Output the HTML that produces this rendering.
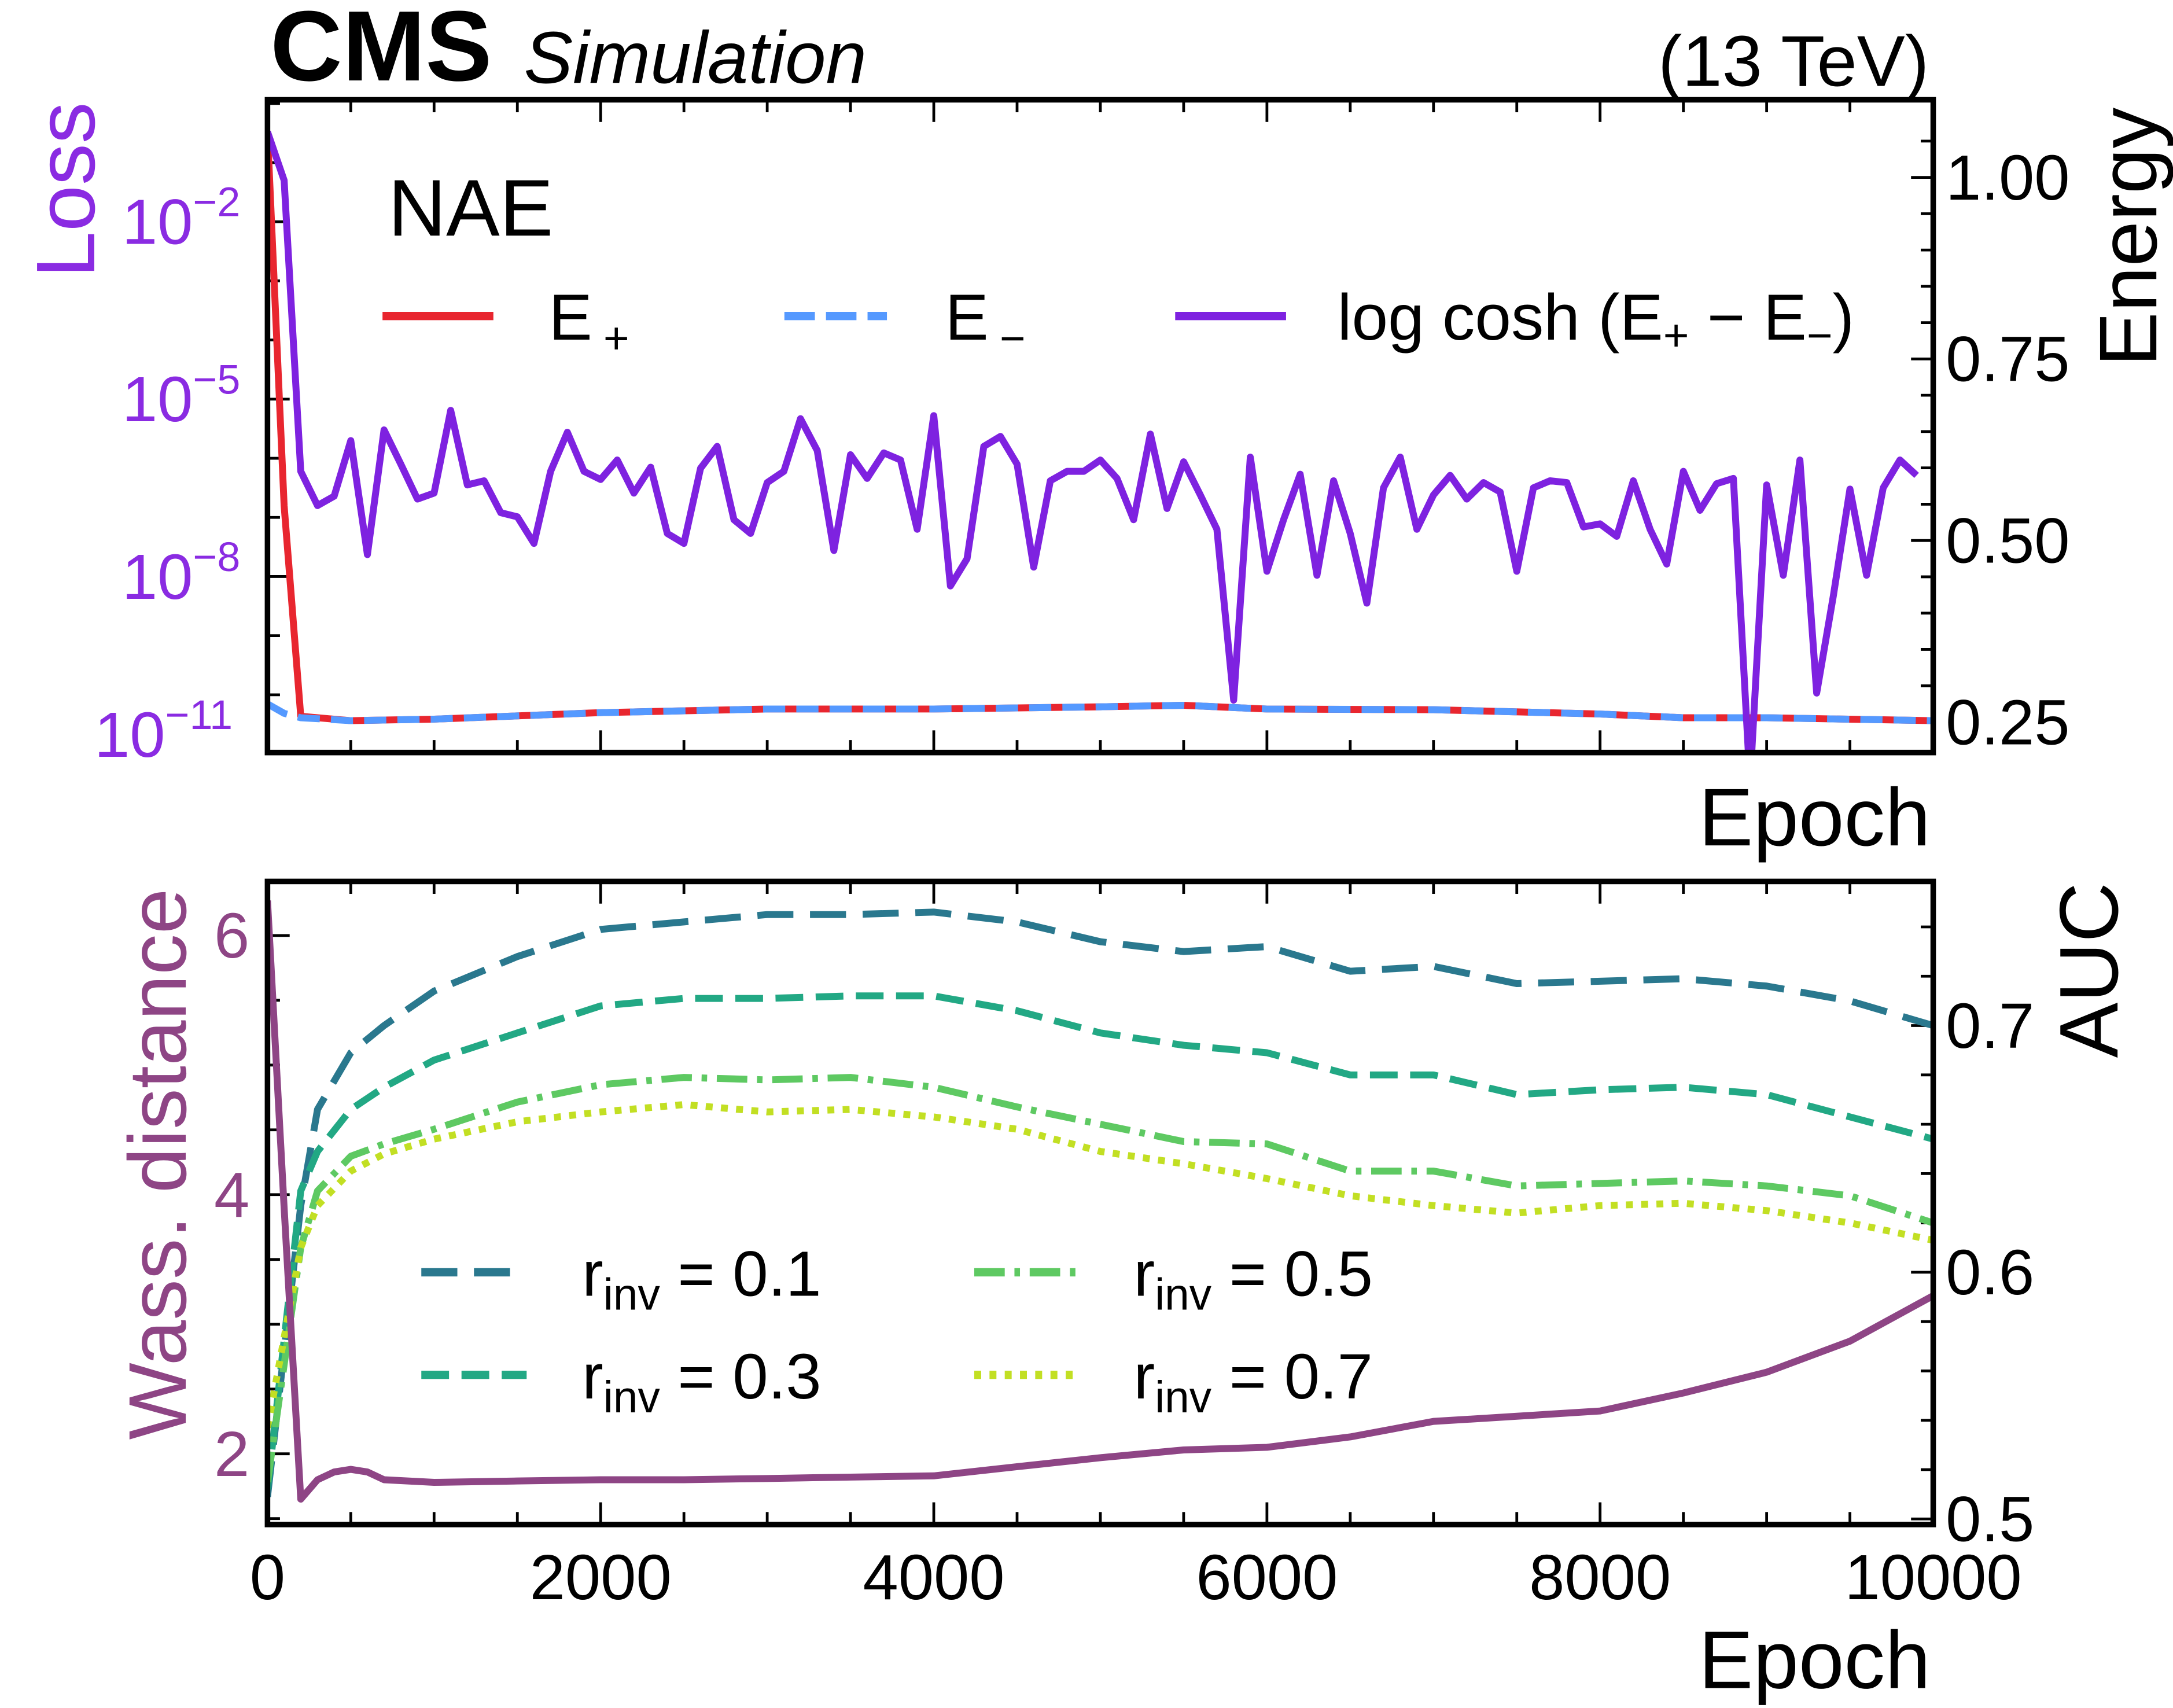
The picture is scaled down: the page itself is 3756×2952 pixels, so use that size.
<!DOCTYPE html>
<html><head><meta charset="utf-8">
<style>
html,body{margin:0;padding:0;background:#fff;}
svg{display:block;font-family:"Liberation Sans","DejaVu Sans",sans-serif;}
</style></head>
<body>
<svg id="chart" width="3756" height="2952" viewBox="0 0 1568 1232.4" xmlns="http://www.w3.org/2000/svg">
<rect width="1568" height="1232.4" fill="#fff"/>
<g id="gtop"></g>
<g id="gbot"></g>
<text x="195" y="58" font-size="72" font-weight="bold">CMS</text>
<text x="378" y="60" font-size="53" font-style="italic">Simulation</text>
<text x="1392" y="62" font-size="52" text-anchor="end">(13 TeV)</text>
<text transform="translate(68,137) rotate(-90)" font-size="60" fill="#8a2be2" text-anchor="middle">Loss</text>
<text transform="translate(1556,171) rotate(-90)" font-size="59" text-anchor="middle">Energy</text>
<text x="1393" y="610" font-size="59" text-anchor="end">Epoch</text>
<text transform="translate(134,840) rotate(-90)" font-size="59" fill="#8e4585" text-anchor="middle">Wass. distance</text>
<text transform="translate(1528,700) rotate(-90)" font-size="60" text-anchor="middle">AUC</text>
<text x="1393" y="1218" font-size="59" text-anchor="end">Epoch</text>
<g>
<text x="280" y="170" font-size="58">NAE</text>
<line x1="276" y1="228" x2="356" y2="228" stroke="#e8262f" stroke-width="6"/>
<text x="396" y="245" font-size="47">E<tspan font-size="32" dx="8" dy="10">+</tspan></text>
<line x1="566" y1="228" x2="640" y2="228" stroke="#5599ff" stroke-width="6" stroke-dasharray="22,8"/>
<text x="682" y="245" font-size="47">E<tspan font-size="32" dx="8" dy="10">−</tspan></text>
<line x1="848" y1="228" x2="928" y2="228" stroke="#7e22e0" stroke-width="6"/>
<text x="965" y="245" font-size="47">log cosh (E<tspan font-size="32" dy="8">+</tspan><tspan dy="-8"> − E</tspan><tspan font-size="32" dy="8">−</tspan><tspan dy="-8">)</tspan></text>
</g>
<g>
<line x1="304" y1="918" x2="380" y2="918" stroke="#2a788e" stroke-width="6" stroke-dasharray="26,12"/>
<text x="420" y="935" font-size="46">r<tspan font-size="32" dy="10">inv</tspan><tspan dy="-10"> = 0.1</tspan></text>
<line x1="304" y1="992" x2="380" y2="992" stroke="#22a884" stroke-width="6" stroke-dasharray="20,9"/>
<text x="420" y="1009" font-size="46">r<tspan font-size="32" dy="10">inv</tspan><tspan dy="-10"> = 0.3</tspan></text>
<line x1="703" y1="918" x2="778" y2="918" stroke="#5ec962" stroke-width="6" stroke-dasharray="22,7,4,7"/>
<text x="818" y="935" font-size="46">r<tspan font-size="32" dy="10">inv</tspan><tspan dy="-10"> = 0.5</tspan></text>
<line x1="703" y1="992" x2="778" y2="992" stroke="#c2df23" stroke-width="6" stroke-dasharray="5,6"/>
<text x="818" y="1009" font-size="46">r<tspan font-size="32" dy="10">inv</tspan><tspan dy="-10"> = 0.7</tspan></text>
</g>
</svg>
<script>
// ---- data ----
const lossExp = [-0.48,-1.30,-6.22,-6.80,-6.64,-5.70,-7.63,-5.52,-6.10,-6.69,-6.59,-5.19,-6.45,-6.38,-6.92,-6.99,-7.44,-6.22,-5.56,-6.22,-6.36,-6.03,-6.59,-6.15,-7.27,-7.44,-6.17,-5.80,-7.04,-7.27,-6.41,-6.22,-5.33,-5.87,-7.56,-5.94,-6.34,-5.91,-6.03,-7.20,-5.28,-8.16,-7.70,-5.80,-5.63,-6.10,-7.84,-6.38,-6.22,-6.22,-6.03,-6.34,-7.04,-5.59,-6.85,-6.06,-6.62,-7.20,-10.09,-5.98,-7.91,-7.04,-6.27,-7.98,-6.38,-7.27,-8.45,-6.50,-5.98,-7.20,-6.62,-6.29,-6.69,-6.41,-6.57,-7.91,-6.50,-6.38,-6.41,-7.16,-7.11,-7.32,-6.38,-7.20,-7.79,-6.22,-6.88,-6.43,-6.34,-11.5,-6.45,-7.98,-6.03,-9.97,-8.33,-6.52,-7.98,-6.50,-6.03,-6.29];
const energyEpochs = [0,100,200,500,1000,2000,3000,4000,5000,5500,6000,7000,8000,8500,9000,10000];
const ePlus  = [1.063,0.548,0.258,0.252,0.254,0.263,0.268,0.268,0.271,0.273,0.268,0.267,0.261,0.256,0.256,0.252];
const eMinus = [0.275,0.262,0.256,0.252,0.254,0.263,0.268,0.268,0.271,0.273,0.268,0.267,0.261,0.256,0.256,0.252];
const wassEpochs = [0,100,200,300,400,500,600,700,1000,1500,2000,2500,3000,3500,4000,4500,5000,5500,6000,6500,7000,7500,8000,8500,9000,9500,10000];
const wass = [6.27,3.9,1.65,1.8,1.86,1.88,1.86,1.8,1.78,1.79,1.8,1.8,1.81,1.82,1.83,1.9,1.97,2.03,2.05,2.13,2.25,2.29,2.33,2.47,2.63,2.87,3.22];
const aucEpochs = [0,200,300,500,700,1000,1500,2000,2500,3000,3500,4000,4500,5000,5500,6000,6500,7000,7500,8000,8500,9000,9500,10000];
const auc01 = [0.509,0.627,0.666,0.689,0.700,0.714,0.728,0.739,0.742,0.745,0.745,0.746,0.742,0.734,0.730,0.732,0.722,0.724,0.717,0.718,0.719,0.716,0.710,0.700];
const auc03 = [0.512,0.633,0.649,0.666,0.675,0.686,0.697,0.708,0.711,0.711,0.712,0.712,0.706,0.697,0.692,0.689,0.680,0.680,0.672,0.674,0.675,0.672,0.663,0.654];
const auc05 = [0.515,0.610,0.633,0.647,0.652,0.658,0.669,0.676,0.679,0.678,0.679,0.675,0.667,0.660,0.653,0.652,0.641,0.641,0.635,0.636,0.637,0.635,0.631,0.620];
const auc07 = [0.537,0.610,0.627,0.641,0.648,0.654,0.661,0.665,0.668,0.665,0.666,0.663,0.658,0.649,0.644,0.638,0.631,0.627,0.624,0.627,0.628,0.625,0.620,0.613];
const xTickLabels = ["0","2000","4000","6000","8000","10000"];
const lossTickExp = [-2,-5,-8,-11];
const energyTicks = ["0.25","0.50","0.75","1.00"];
const wassTicks = ["2","4","6"];
const aucTicks = ["0.5","0.6","0.7"];

const NS="http://www.w3.org/2000/svg";
const X0=193,X1=1395;
const xs=e=>X0+(e/10000)*(X1-X0);
const yLoss=v=>160+(-2-v)*128/3;
const yE=v=>128+(1.0-v)*131/0.25;
const yW=v=>675+(6-v)*93.5;
const yA=v=>740+(0.7-v)*1780;
function mk(parent,tag,attrs){const el=document.createElementNS(NS,tag);for(const k in attrs)el.setAttribute(k,attrs[k]);parent.appendChild(el);return el;}
function poly(parent,xv,yv,fx,fy,style,name,clip){
  const pts=xv.map((x,i)=>fx(x).toFixed(1)+","+fy(yv[i]).toFixed(1)).join(" ");
  const el=mk(parent,"polyline",Object.assign({points:pts,fill:"none","stroke-linejoin":"round"},style));
  if(clip) el.setAttribute("clip-path",clip);
  
  
}
const svgEl=document.getElementById("chart");
const defs=mk(svgEl,"defs",{});
const c1=mk(defs,"clipPath",{id:"c1"});mk(c1,"rect",{x:X0,y:72,width:X1-X0,height:471});
const c2=mk(defs,"clipPath",{id:"c2"});mk(c2,"rect",{x:X0,y:636,width:X1-X0,height:464});
const gTop=document.getElementById("gtop"),gBot=document.getElementById("gbot");

function tick(g,x1,y1,x2,y2,name){const t=mk(g,"line",{x1,y1,x2,y2,stroke:"#000","stroke-width":2});
  
  }
function label(g,x,y,txt,anchor,fill,name,size){const t=mk(g,"text",{x,y,"font-size":size||46,"text-anchor":anchor,fill:fill||"#000"});t.textContent=txt;
  
  return t;}

// ---- ticks ----
for(let e=0;e<=10000;e+=500){const x=xs(e);const L=e%2000===0?16:9;
  tick(gTop,x,543,x,543-L,"top-x-tick");tick(gTop,x,72,x,72+L,"top-x-tick");
  tick(gBot,x,1100,x,1100-L,"bottom-x-tick");tick(gBot,x,636,x,636+L,"bottom-x-tick");}
xTickLabels.forEach((t,i)=>label(gBot,xs(i*2000),1154,t,"middle","#000","x-tick-label"));
for(let d=-11;d<=0;d++){const y=yLoss(d);if(y<72||y>543)continue;tick(gTop,X0,y,X0+(lossTickExp.includes(d)?16:9),y,"loss-tick");}
lossTickExp.forEach(d=>{const y=d===-11?530:yLoss(d);
  const t=label(gTop,d===-11?68:88,y+16,"10","start","#8a2be2","loss-tick-label");
  const s=document.createElementNS(NS,"tspan");s.setAttribute("font-size","30");s.setAttribute("dy","-20");s.textContent="−"+(-d);t.appendChild(s);});
for(let k=0;k<=16;k++){const v=0.25+k*0.05;const y=yE(v);if(y<72)continue;tick(gTop,X1,y,X1-(k%5===0?16:9),y,"energy-tick");}
energyTicks.forEach(t=>label(gTop,1404,yE(parseFloat(t))+16,t,"start","#000","energy-tick-label"));
poly(gTop,energyEpochs,ePlus,xs,yE,{stroke:"#e8262f","stroke-width":5},"eplus-line","url(#c1)");
poly(gTop,energyEpochs,eMinus,xs,yE,{stroke:"#5599ff","stroke-width":5,"stroke-dasharray":"16,8"},"eminus-line","url(#c1)");
poly(gTop,lossExp.map((_,i)=>i*100),lossExp,xs,yLoss,{stroke:"#7e22e0","stroke-width":5},"logcosh-line","url(#c1)");
const b1=mk(gTop,"rect",{x:X0,y:72,width:X1-X0,height:471,fill:"none",stroke:"#000","stroke-width":4});



// ---- bottom panel ----
for(let k=0;k<=11;k++){const v=1.5+k*0.5;const y=yW(v);if(y<636||y>1100)continue;tick(gBot,X0,y,X0+(k%4===1?16:9),y,"wass-tick");}
wassTicks.forEach(t=>label(gBot,180,yW(+t)+16,t,"end","#8e4585","wass-tick-label"));
for(let k=0;k<=13;k++){const v=0.5+k*0.02;const y=yA(v);if(y<636)continue;tick(gBot,X1,y,X1-(k%5===0?16:9),y,"auc-tick");}
aucTicks.forEach(t=>label(gBot,1404,yA(+t)+16,t,"start","#000","auc-tick-label"));
poly(gBot,aucEpochs,auc01,xs,yA,{stroke:"#2a788e","stroke-width":5,"stroke-dasharray":"26,12"},"auc-r01-line","url(#c2)");
poly(gBot,aucEpochs,auc03,xs,yA,{stroke:"#22a884","stroke-width":5,"stroke-dasharray":"20,9"},"auc-r03-line","url(#c2)");
poly(gBot,aucEpochs,auc05,xs,yA,{stroke:"#5ec962","stroke-width":5,"stroke-dasharray":"22,7,4,7"},"auc-r05-line","url(#c2)");
poly(gBot,aucEpochs,auc07,xs,yA,{stroke:"#c2df23","stroke-width":5,"stroke-dasharray":"5,6"},"auc-r07-line","url(#c2)");
poly(gBot,wassEpochs,wass,xs,yW,{stroke:"#8e4585","stroke-width":5},"wass-line","url(#c2)");
const b2=mk(gBot,"rect",{x:X0,y:636,width:X1-X0,height:464,fill:"none",stroke:"#000","stroke-width":4});


</script>
</body></html>
